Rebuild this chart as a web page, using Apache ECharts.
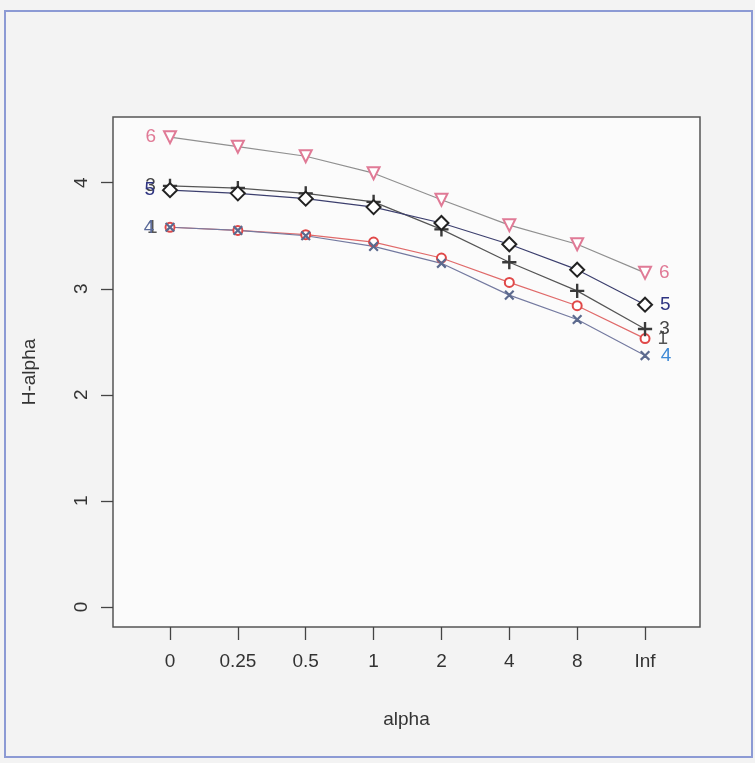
<!DOCTYPE html>
<html>
<head>
<meta charset="utf-8">
<script src="https://cdn.jsdelivr.net/npm/echarts@6/dist/echarts.min.js"></script>
<style>
  html, body { margin: 0; padding: 0; background: #f3f3f3; }
  #chart { width: 755px; height: 763px; }
</style>
</head>
<body>
<div id="chart"></div>
<script>
// alpha values along the x axis
const alphaLabels = ['0', '0.25', '0.5', '1', '2', '4', '8', 'Inf'];
// y-axis ticks
const yTicks = [0, 1, 2, 3, 4];
// H-alpha for each group
const h1 = [3.58, 3.55, 3.51, 3.44, 3.29, 3.06, 2.84, 2.53];
const h3 = [3.97, 3.95, 3.90, 3.82, 3.56, 3.25, 2.98, 2.62];
const h4 = [3.58, 3.55, 3.50, 3.40, 3.24, 2.94, 2.71, 2.37];
const h5 = [3.93, 3.90, 3.85, 3.77, 3.62, 3.42, 3.18, 2.85];
const h6 = [4.43, 4.34, 4.25, 4.09, 3.84, 3.60, 3.42, 3.15];

const FONT = 'Liberation Sans';
const FS = 19;
// thin plus sign; rotated 45 degrees it becomes a cross
const plusPath = 'path://M4.55,0 H5.45 V4.55 H10 V5.45 H5.45 V10 H4.55 V5.45 H0 V4.55 H4.55 Z';

const groups = [
  { name: '1', values: h1, line: '#e06a6a', mark: '#e04848', labelColor: '#555555', symbol: 'emptyCircle', size: 9, rot: 0 },
  { name: '4', values: h4, line: '#747aa0', mark: '#5c6a8e', labelColor: '#3f8ad6', leftLabelColor: '#5a6a9a', symbol: plusPath, size: 11, rot: 45 },
  { name: '3', values: h3, line: '#555555', mark: '#3a3a3a', labelColor: '#444444', symbol: plusPath, size: 13, rot: 0 },
  { name: '5', values: h5, line: '#3c3f6e', mark: '#222222', labelColor: '#2f3582', symbol: 'emptyDiamond', size: 14, rot: 0 },
  { name: '6', values: h6, line: '#909090', mark: '#e07a96', labelColor: '#e07a96', symbol: 'emptyTriangle', size: 12, rot: 180 }
];

const endLabel = (g, pos, color) => ({
  show: true,
  position: pos,
  distance: 7,
  formatter: g.name,
  color: color,
  fontFamily: FONT,
  fontSize: FS
});

const series = groups.map(g => ({
  name: g.name,
  type: 'line',
  symbol: g.symbol,
  symbolSize: g.size,
  symbolRotate: g.rot,
  showAllSymbol: true,
  lineStyle: { color: g.line, width: 1.2 },
  itemStyle: { color: g.mark, borderColor: g.mark, borderWidth: 1.2 },
  emphasis: { disabled: true },
  data: g.values.map((v, i) => {
    const item = { value: [i, v] };
    if (i === 0) item.label = endLabel(g, 'left', g.leftLabelColor || g.labelColor);
    if (i === g.values.length - 1) item.label = endLabel(g, 'right', g.labelColor);
    return item;
  })
}));

const chart = echarts.init(document.getElementById('chart'), null, { renderer: 'canvas' });
chart.setOption({
  backgroundColor: '#f3f3f3',
  animation: false,
  grid: {
    left: 113, right: 55, top: 117, bottom: 136,
    show: true, backgroundColor: '#fbfbfb',
    borderColor: '#555555', borderWidth: 1.5
  },
  xAxis: {
    type: 'value',
    min: -0.84, max: 7.81,
    name: 'alpha',
    nameLocation: 'middle',
    nameGap: 83,
    nameTextStyle: { fontFamily: FONT, fontSize: FS, color: '#333' },
    axisLine: { show: false, onZero: false },
    splitLine: { show: false },
    axisTick: { show: true, length: 13, inside: false, customValues: alphaLabels.map((_, i) => i), lineStyle: { color: '#444', width: 1.3 } },
    axisLabel: {
      customValues: alphaLabels.map((_, i) => i),
      formatter: v => alphaLabels[Math.round(v)],
      margin: 25,
      fontFamily: FONT, fontSize: FS, color: '#333'
    }
  },
  yAxis: {
    type: 'value',
    min: -0.19, max: 4.62,
    name: 'H-alpha',
    nameLocation: 'middle',
    nameGap: 74,
    nameRotate: 90,
    nameTextStyle: { fontFamily: FONT, fontSize: FS, color: '#333' },
    axisLine: { show: false, onZero: false },
    splitLine: { show: false },
    axisTick: { show: true, length: 12, inside: false, customValues: yTicks, lineStyle: { color: '#444', width: 1.3 } },
    axisLabel: {
      customValues: yTicks,
      rotate: 90,
      margin: 22,
      fontFamily: FONT, fontSize: FS, color: '#333'
    }
  },
  graphic: [{
    type: 'rect',
    shape: { x: 5, y: 11, width: 747, height: 746 },
    style: { fill: null, stroke: '#8c9ad4', lineWidth: 2 },
    silent: true
  }],
  series: series
});
</script>
</body>
</html>
